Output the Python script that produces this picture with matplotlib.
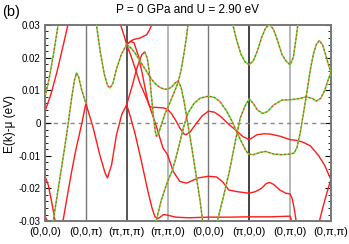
import matplotlib
matplotlib.use('Agg')
import matplotlib.pyplot as plt
from matplotlib.ticker import MultipleLocator

plt.rcParams['font.family'] = ['Liberation Sans', 'DejaVu Sans']

# k-path labels, one per high-symmetry point (x = 0..7)
k_labels = ['(0,0,0)', '(0,0,\u03c0)', '(\u03c0,\u03c0,\u03c0)', '(\u03c0,\u03c0,0)',
            '(0,0,0)', '(\u03c0,0,0)', '(0,\u03c0,0)', '(0,\u03c0,\u03c0)']
e_ticks = [0.03, 0.02, 0.01, 0.0, -0.01, -0.02, -0.03]
e_tick_labels = ['0.03', '0.02', '0.01', '0', '-0.01', '-0.02', '-0.03']

# bands: x along the path, E in units of 0.01 eV
# "g" bands = spin up and down on top of each other (green + red dashes)
g1_x = [0, 0.1, 0.2, 0.32, 0.36]
g1_e = [0.8, 1.35, 2.05, 3.0, 3.3]
g2_x = [0.18, 0.2, 0.3, 0.4, 0.5, 0.57, 0.65, 0.72, 0.77, 0.82, 0.9, 1.0]
g2_e = [-3.3, -3.0, -2.2, -1.4, -0.6, 0.0, 0.75, 1.3, 1.53, 1.42, 1.0, 0.6]
g3_x = [1.24, 1.26, 1.35, 1.45, 1.53, 1.59, 1.66, 1.75, 1.87, 2.0]
g3_e = [3.3, 3.0, 2.2, 1.5, 1.15, 1.07, 1.2, 1.65, 2.1, 2.4]
g4_x = [2.0, 2.1, 2.2, 2.3, 2.4, 2.5, 2.6, 2.7, 2.8, 2.9, 3.0, 3.1, 3.18, 3.26,
        3.33, 3.4, 3.5, 3.6, 3.7, 3.8, 3.86, 3.88]
g4_e = [2.4, 2.3, 2.15, 1.95, 1.75, 1.55, 1.35, 1.2, 1.1, 1.04, 1.03, 1.1, 1.22, 1.28,
        1.1, 0.7, -0.05, -0.8, -1.6, -2.4, -3.0, -3.3]
g5_x = [2.44, 2.5, 2.55, 2.6, 2.65, 2.7, 2.73, 2.78, 2.85, 2.93, 3.0, 3.1, 3.2, 3.26,
        3.33, 3.4, 3.46, 3.5, 3.53]
g5_e = [2.17, 2.0, 1.6, 0.9, 0.25, -0.25, -0.41, -0.32, -0.05, 0.26, 0.45, 0.75, 1.05, 1.25,
        1.6, 2.1, 2.6, 3.0, 3.3]
g6_x = [2.7, 2.72, 2.85, 3.0, 3.1, 3.2, 3.3, 3.4, 3.5, 3.65, 3.8, 4.0,
        4.15, 4.28, 4.45, 4.6, 4.69, 4.8, 4.9, 4.98,
        5.1, 5.27, 5.4, 5.6, 5.81, 6.0,
        6.1, 6.17, 6.25, 6.33, 6.42, 6.5, 6.58, 6.65, 6.72, 6.8, 6.88, 6.95, 7.0]
g6_e = [-3.3, -3.0, -2.35, -1.79, -1.5, -1.1, -0.6, -0.1, 0.3, 0.6, 0.76, 0.82,
        0.78, 0.66, 0.36, 0.0, -0.26, -0.55, -0.8, -0.95,
        -0.97, -0.9, -0.87, -0.95, -0.97, -0.95,
        -0.92, -0.75, -0.3, 0.3, 1.0, 1.65, 2.15, 2.42, 2.52, 2.38, 2.05, 1.75, 1.54]
g7_x = [4.2, 4.22, 4.38, 4.52, 4.67, 4.78, 4.9, 5.0,
        5.1, 5.2, 5.33, 5.45, 5.6, 5.8, 6.0,
        6.2, 6.4, 6.55, 6.64, 6.75, 6.85, 6.93, 7.0]
g7_e = [-3.3, -3.0, -2.2, -1.45, -0.5, 0.15, 0.52, 0.74,
        0.6, 0.4, 0.29, 0.35, 0.55, 0.7, 0.71,
        0.74, 0.8, 0.75, 0.67, 0.75, 1.0, 1.3, 1.54]
g8_x = [4.57, 4.6, 4.7, 4.8, 4.9, 5.0, 5.1, 5.2, 5.3, 5.4, 5.5, 5.6, 5.7, 5.8, 5.9,
        6.0, 6.08, 6.15, 6.19, 6.22]
g8_e = [3.3, 3.0, 2.5, 2.1, 1.87, 1.78, 1.9, 2.2, 2.6, 2.9, 3.02, 2.85, 2.5, 2.1, 1.9,
        1.78, 2.0, 2.6, 3.0, 3.3]

# red only bands
r1_x = [0, 0.15, 0.3, 0.45, 0.57, 0.6]
r1_e = [0.36, 0.9, 1.6, 2.4, 3.05, 3.3]
r2_x = [0, 0.08, 0.16, 0.24, 0.26]
r2_e = [-1.63, -1.9, -2.4, -2.95, -3.3]
r3_x = [0, 0.05, 0.08]
r3_e = [-2.86, -2.97, -3.3]
r4_x = [0.42, 0.44, 0.55, 0.65, 0.75, 0.85, 0.92, 1.0]
r4_e = [-3.3, -3.0, -2.2, -1.5, -0.85, -0.3, 0.1, 0.6]
r5_x = [1.0, 1.18, 1.34, 1.47, 1.53, 1.63, 1.75, 1.88, 2.0,
        2.1, 2.2, 2.36, 2.52, 2.62, 2.69, 2.75, 2.82, 2.9, 3.0, 3.2, 3.5,
        4.0, 4.5, 5.0, 5.5, 6.0, 6.04, 6.06]
r5_e = [0.6, -0.15, -0.97, -1.53, -1.68, -1.28, -0.36, 0.26, 0.56,
        0.15, -0.3, -1.17, -2.09, -2.6, -2.86, -2.93, -2.88, -2.8, -2.82, -2.88, -2.9,
        -2.88, -2.88, -2.87, -2.87, -2.85, -3.0, -3.3]
r6_x = [1.83, 1.85, 1.93, 2.0]
r6_e = [3.3, 3.0, 2.7, 2.4]
r7_x = [2.0, 2.1, 2.16, 2.33, 2.49, 2.56, 2.61, 2.63]
r7_e = [2.4, 2.5, 2.55, 2.6, 2.7, 2.85, 3.0, 3.3]
r8_x = [2.0, 2.1, 2.18, 2.29, 2.37, 2.45, 2.53, 2.57, 2.66, 2.8, 2.9, 3.0, 3.1, 3.2,
        3.3, 3.4, 3.45, 3.55, 3.7, 3.85, 4.0,
        4.15, 4.3, 4.5, 4.7, 4.85, 5.0,
        5.19, 5.36, 5.52, 5.77, 6.0,
        6.15, 6.3, 6.5, 6.7, 6.85, 7.0]
r8_e = [2.4, 2.5, 2.45, 2.04, 1.58, 1.07, 0.61, 0.5, 0.48, 0.47, 0.46, 0.42, 0.28, 0.08,
        -0.15, -0.33, -0.36, -0.28, -0.02, 0.22, 0.36,
        0.33, 0.2, -0.04, -0.25, -0.42, -0.51,
        -0.36, -0.33, -0.34, -0.41, -0.51,
        -0.53, -0.58, -0.7, -1.0, -1.3, -1.73]
r9_x = [6.7, 6.72, 6.8, 6.9, 7.0]
r9_e = [-3.3, -3.0, -2.6, -2.15, -1.73]
r10_x = [2.0, 2.12, 2.32, 2.53, 2.7, 2.89, 3.0, 3.14, 3.3, 3.47, 3.75, 4.0,
         4.2, 4.35, 4.5, 4.7, 5.0,
         5.15, 5.3, 5.42, 5.5, 5.6, 5.75, 5.9, 6.0, 6.05, 6.1, 6.15, 6.17]
r10_e = [2.4, 2.0, 1.23, 0.62, 0.0, -0.77, -0.97, -1.48, -1.79, -1.84, -1.68, -1.63,
         -1.65, -1.8, -2.05, -2.1, -2.15,
         -2.1, -2.0, -1.85, -1.82, -1.88, -2.05, -2.15, -2.17, -2.3, -2.6, -3.0, -3.3]
# rising red piece that feeds the green hump near (pi,pi,pi)
r11_x = [2.0, 2.12, 2.25, 2.37, 2.44]
r11_e = [0.56, 1.07, 1.68, 2.09, 2.17]

green_bands = [(g1_x, g1_e), (g2_x, g2_e), (g3_x, g3_e), (g4_x, g4_e), (g5_x, g5_e),
               (g6_x, g6_e), (g7_x, g7_e), (g8_x, g8_e)]
red_bands = [(r1_x, r1_e), (r2_x, r2_e), (r3_x, r3_e), (r4_x, r4_e), (r5_x, r5_e),
             (r6_x, r6_e), (r7_x, r7_e), (r8_x, r8_e), (r9_x, r9_e), (r10_x, r10_e),
             (r11_x, r11_e)]

RED = '#ff1a1a'
GREEN = '#5ee03a'

fig = plt.figure(figsize=(3.49, 2.44), dpi=100)
ax = fig.add_axes([0.129, 0.094, 0.819, 0.804])

# high symmetry lines
vline_colors = ['#777777', '#555555', '#aaaaaa', '#777777', '#111111', '#aaaaaa']
vline_widths = [1.0, 1.4, 1.2, 1.0, 1.1, 1.2]
for i, c in enumerate(vline_colors):
    ax.axvline(i + 1, color=c, lw=vline_widths[i], zorder=1)
ax.axhline(0, color='#888888', lw=1.0, dashes=(3, 3), zorder=1)

for xs, es in red_bands:
    ax.plot(xs, [e * 0.01 for e in es], color=RED, lw=1.0, zorder=2)
for xs, es in green_bands:
    ys = [e * 0.01 for e in es]
    ax.plot(xs, ys, color=GREEN, lw=1.1, zorder=3)
    ax.plot(xs, ys, color=RED, lw=0.9, dashes=(1.6, 1.6), zorder=4, alpha=0.75)

ax.set_xlim(0, 7)
ax.set_ylim(-0.03, 0.03)
ax.set_xticks(range(len(k_labels)))
ax.set_xticklabels(k_labels, fontsize=8)
ax.set_yticks(e_ticks)
ax.set_yticklabels(e_tick_labels, fontsize=7)
ax.yaxis.set_minor_locator(MultipleLocator(0.002))
ax.tick_params(axis='x', length=0, pad=4)
ax.tick_params(axis='y', which='major', direction='in', length=4, right=True, width=0.8, pad=3)
ax.tick_params(axis='y', which='minor', direction='in', length=2, right=True, width=0.6)
for s in ax.spines.values():
    s.set_color('#777777')
    s.set_linewidth(1.4)

fig.text(0.538, 0.958, 'P = 0 GPa and U = 2.90 eV', ha='center', va='center', fontsize=8.5)
fig.text(0.006, 0.952, '(b)', ha='left', va='center', fontsize=10.5)
fig.text(0.028, 0.49, 'E(k)-\u03bc (eV)', rotation=90, ha='center', va='center', fontsize=8.5)

fig.savefig('out.png', dpi=100)
